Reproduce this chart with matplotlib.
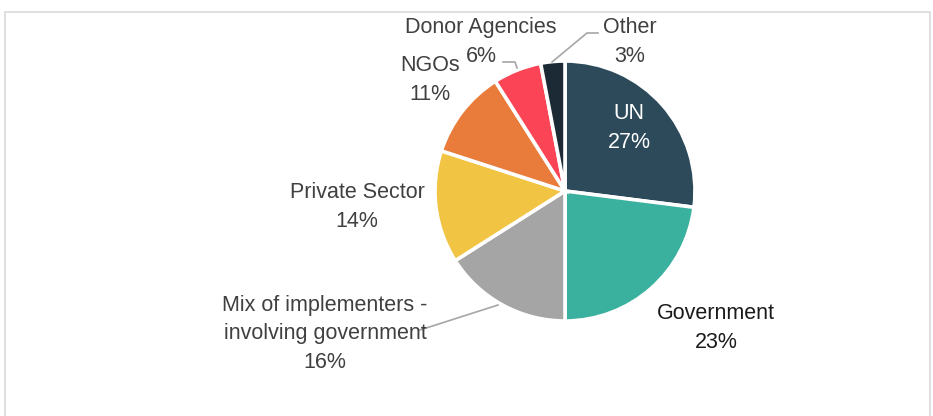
import matplotlib.pyplot as plt
from matplotlib.patches import Rectangle

# ------------------------- data ------------------------- #

categories = ["UN", "Government", "Mix of implementers -\ninvolving government",
              "Private Sector", "NGOs", "Donor Agencies", "Other"]
shares = [27, 23, 16, 14, 11, 6, 3]
colors = ["#2C4A5A", "#3AB09E", "#A5A5A5", "#F2C444", "#E97C3A", "#FB4455", "#1B2A34"]

# label centres in pixels (x, y from top)
label_pos = [(629, 128), (716, 328), (325, 334), (357, 207), (430, 80), (481, 42), (630, 42)]
label_col = ["white", "#1a1a1a", "#404040", "#404040", "#404040", "#404040", "#404040"]

W, H = 933, 416
LINE = 28.5   # px between label lines

plt.rcParams['font.family'] = ['Liberation Sans Narrow', 'Liberation Sans', 'DejaVu Sans']

fig = plt.figure(figsize=(W / 100, H / 100), dpi=100)
ax = fig.add_axes([0, 0, 1, 1])

ax.pie(shares, colors=colors, startangle=90, counterclock=False,
       center=(565, H - 191), radius=130, frame=True,
       wedgeprops={"edgecolor": "white", "linewidth": 2.6})

ax.set_xlim(0, W)
ax.set_ylim(0, H)
ax.set_aspect("equal")
ax.set_axis_off()

# chart area border
ax.add_patch(Rectangle((4.5, -5), 925, H - 5 - 1.5, fill=False,
                       edgecolor="#D9D9D9", linewidth=1.2))

# one text per line so the boxes stay tight
for name, val, (x, y), c in zip(categories, shares, label_pos, label_col):
    lines = name.split("\n") + [f"{val}%"]
    y0 = y - LINE * (len(lines) - 1) / 2
    for i, s in enumerate(lines):
        ax.text(x, H - (y0 + i * LINE), s, ha="center", va="center",
                fontsize=15.5, color=c)

# leader lines
lc = "#A6A6A6"
ax.plot([503, 515, 517], [H - 62, H - 62, H - 68], color=lc, lw=1.2)
ax.plot([598, 587, 552], [H - 33, H - 33, H - 62], color=lc, lw=1.2)
ax.plot([420, 498], [H - 330, H - 305], color=lc, lw=1.2)

fig.savefig("out.png", dpi=100)
